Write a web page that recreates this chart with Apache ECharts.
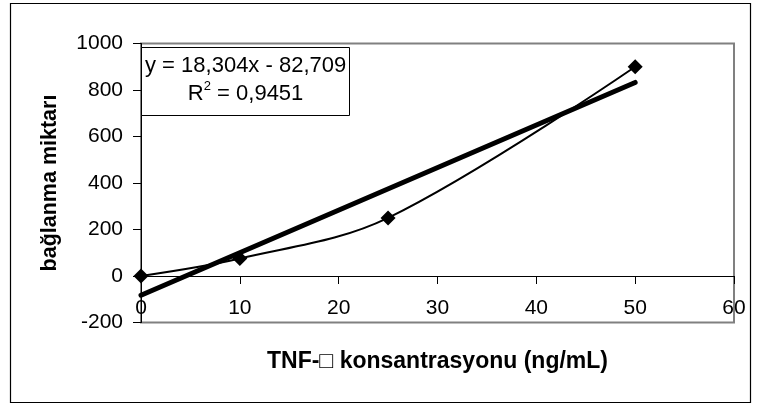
<!DOCTYPE html>
<html>
<head>
<meta charset="utf-8">
<script src="https://cdn.jsdelivr.net/npm/echarts@6/dist/echarts.min.js"></script>
<style>
html,body{margin:0;padding:0;background:#fff;}
#chart{width:759px;height:405px;}
</style>
</head>
<body>
<div id="chart"></div>
<script>
// Data
var concentrations = [0, 10, 25, 50];
var bindingAmounts = [0, 75, 250, 900];
var trendX = [0, 50];
var trendY = [-82.709, 832.491];
var xTicks = [0, 10, 20, 30, 40, 50, 60];
var yTicks = [-200, 0, 200, 400, 600, 800, 1000];
var equationText = 'y = 18,304x - 82,709';
var r2Text = '0,9451';
var xTitle = 'TNF-\u25A1 konsantrasyonu (ng/mL)';
var yTitle = 'bağlanma miktarı';

var FONT = "'Liberation Sans', Arial, sans-serif";
var chart = echarts.init(document.getElementById('chart'), null, {renderer: 'canvas'});

var seriesData = concentrations.map(function (x, i) { return [x, bindingAmounts[i]]; });
var trendData = trendX.map(function (x, i) { return [x, trendY[i]]; });

chart.setOption({
  animation: false,
  backgroundColor: '#fff',
  textStyle: {fontFamily: FONT},
  grid: {
    left: 141, right: 25, top: 43.5, bottom: 82.5,
    show: true, borderColor: '#808080', borderWidth: 2, backgroundColor: 'transparent'
  },
  title: {
    text: '{a|' + equationText + '}\n{a|R}{s|2}{a| = ' + r2Text + '}',
    left: 141, top: 44,
    padding: [8, 4, 11, 4],
    backgroundColor: '#fff',
    borderColor: '#000', borderWidth: 1,
    textStyle: {
      fontWeight: 'normal',
      rich: {
        a: {fontFamily: FONT, fontSize: 22, fontWeight: 'normal', color: '#000', lineHeight: 28, align: 'center'},
        s: {fontFamily: FONT, fontSize: 13, fontWeight: 'normal', color: '#000', lineHeight: 28, verticalAlign: 'top', padding: [0,0,10,0], align: 'center'}
      }
    }
  },
  xAxis: [
    {
      type: 'value', min: xTicks[0], max: xTicks[xTicks.length - 1], interval: 10,
      position: 'bottom',
      axisLine: {show: false, onZero: false},
      axisTick: {show: false},
      splitLine: {show: false},
      axisLabel: {inside: true, margin: 4, fontSize: 21, color: '#000', fontFamily: FONT},
      name: xTitle, nameLocation: 'middle', nameGap: 28,
      nameTextStyle: {fontSize: 23, fontWeight: 'bold', color: '#000', fontFamily: FONT}
    },
    {
      type: 'value', min: xTicks[0], max: xTicks[xTicks.length - 1], interval: 10,
      position: 'top',
      axisLine: {show: true, onZero: true, lineStyle: {color: '#000', width: 1}},
      axisTick: {show: true, inside: true, length: 8, lineStyle: {color: '#000'}},
      axisLabel: {show: false},
      splitLine: {show: false}
    }
  ],
  yAxis: {
    type: 'value', min: yTicks[0], max: yTicks[yTicks.length - 1], interval: 200,
    axisLine: {show: true, onZero: false, lineStyle: {color: '#000', width: 1}},
    axisTick: {show: true, length: 8, lineStyle: {color: '#000'}},
    splitLine: {show: false},
    axisLabel: {margin: 18, fontSize: 21, color: '#000', fontFamily: FONT,
      formatter: function (v) { return String(v); }},
    name: yTitle, nameLocation: 'middle', nameGap: 80,
    nameTextStyle: {fontSize: 21.5, fontWeight: 'bold', color: '#000', fontFamily: FONT}
  },
  series: [
    {
      type: 'line', xAxisIndex: 0, data: seriesData, smooth: 0.35,
      symbol: 'diamond', symbolSize: 15,
      lineStyle: {color: '#000', width: 2},
      itemStyle: {color: '#000'},
      z: 3
    },
    {
      type: 'line', xAxisIndex: 0, data: trendData, showSymbol: false, symbol: 'none',
      lineStyle: {color: '#000', width: 5, cap: 'round'},
      z: 2
    }
  ],
  graphic: [
    {
      type: 'rect', shape: {x: 10.5, y: 3.5, width: 740, height: 399},
      style: {fill: 'none', stroke: '#000', lineWidth: 1.2}, silent: true
    }
  ]
});
</script>
</body>
</html>
